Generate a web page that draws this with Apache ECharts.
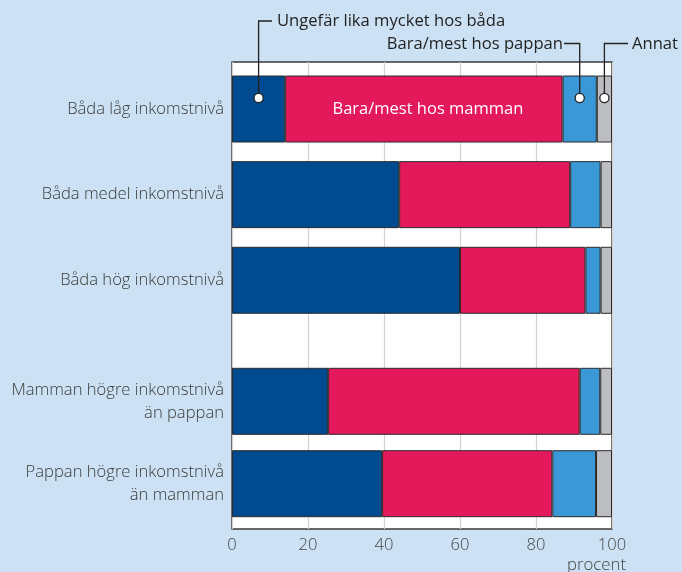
<!DOCTYPE html>
<html>
<head>
<meta charset="utf-8">
<script src="https://cdn.jsdelivr.net/npm/echarts@6/dist/echarts.min.js"></script>
<style>
html,body{margin:0;padding:0;background:#cce2f4;}
#c{width:682px;height:572px;}
</style>
</head>
<body>
<div id="c"></div>
<script>
// Data
var categoriesTop = ['Båda låg inkomstnivå', 'Båda medel inkomstnivå', 'Båda hög inkomstnivå'];
var categoriesBottom = ['Mamman högre inkomstnivå\nän pappan', 'Pappan högre inkomstnivå\nän mamman'];
var seriesNames = ['Ungefär lika mycket hos båda', 'Bara/mest hos mamman', 'Bara/mest hos pappan', 'Annat'];
var likaTop = [14, 44, 60];
var mammanTop = [73, 45, 33];
var pappanTop = [9, 8, 4];
var annatTop = [4, 3, 3];
var likaBottom = [25.3, 39.5];
var mammanBottom = [66.2, 44.8];
var pappanBottom = [5.4, 11.5];
var annatBottom = [3.1, 4.2];
var xTicks = [0, 20, 40, 60, 80, 100];
var xUnit = 'procent';

var colors = ['#004a8f', '#e3195b', '#3a98d6', '#bcbdc0'];
var FONT = 'Open Sans';

var chart = echarts.init(document.getElementById('c'), null, {renderer: 'canvas'});

function makeSeries(name, data, idx, gridIdx, withLabel) {
  var d = data.map(function (v, i) {
    if (withLabel && i === 0) {
      return {value: v, label: {show: true, position: 'inside', formatter: 'Bara/mest hos mamman',
        color: '#ffffff', fontFamily: FONT, fontSize: 16.5, offset: [4, 0]}};
    }
    return v;
  });
  return {
    type: 'bar', name: name, stack: 's' + gridIdx,
    xAxisIndex: gridIdx, yAxisIndex: gridIdx,
    data: d, barWidth: 67,
    itemStyle: {color: colors[idx], borderColor: '#2b2b2b', borderWidth: 1},
    emphasis: {disabled: true},
    silent: true, animation: false
  };
}

var hiddenX = function (gi) {
  return {type: 'value', gridIndex: gi, min: 0, max: 100, interval: 20, show: false};
};

var yLabel = {color: '#3a3a3a', fontFamily: FONT, fontSize: 16.6, fontWeight: 300, margin: 8, lineHeight: 23, align: 'right'};

var option = {
  backgroundColor: '#cce2f4',
  animation: false,
  grid: [
    {left: 232, width: 380, top: 62, height: 467, show: true, backgroundColor: '#ffffff',
      borderColor: '#3a3a3a', borderWidth: 1.5, z: 0},
    {left: 232, width: 380, top: 66.2, height: 256.9},
    {left: 232, width: 380, top: 360.1, height: 164.8}
  ],
  xAxis: [
    {type: 'value', gridIndex: 0, min: 0, max: 100, interval: 20,
      axisLine: {show: false}, axisTick: {show: false},
      splitLine: {show: true, lineStyle: {color: '#d2d2d2', width: 1.2}},
      axisLabel: {color: '#444', fontFamily: FONT, fontSize: 16.5, fontWeight: 300, margin: 8,
        formatter: function (v) { return xTicks.indexOf(v) >= 0 ? String(v) : ''; }}},
    hiddenX(1), hiddenX(2)
  ],
  yAxis: [
    {type: 'value', gridIndex: 0, show: false, min: 0, max: 1},
    {type: 'category', gridIndex: 1, inverse: true, data: categoriesTop,
      axisLine: {show: false}, axisTick: {show: false}, axisLabel: yLabel},
    {type: 'category', gridIndex: 2, inverse: true, data: categoriesBottom,
      axisLine: {show: false}, axisTick: {show: false}, axisLabel: yLabel}
  ],
  series: [
    makeSeries(seriesNames[0], likaTop, 0, 1),
    makeSeries(seriesNames[1], mammanTop, 1, 1, true),
    makeSeries(seriesNames[2], pappanTop, 2, 1),
    makeSeries(seriesNames[3], annatTop, 3, 1),
    makeSeries(seriesNames[0], likaBottom, 0, 2),
    makeSeries(seriesNames[1], mammanBottom, 1, 2),
    makeSeries(seriesNames[2], pappanBottom, 2, 2),
    makeSeries(seriesNames[3], annatBottom, 3, 2)
  ]
};
chart.setOption(option);

// Callouts on first bar, positioned from the data through the axes
function px(v, cat) {
  return chart.convertToPixel({xAxisIndex: 1, yAxisIndex: 1}, [v, cat]);
}
var c0 = categoriesTop[0];
var p1 = px(likaTop[0] / 2, c0);
var p2 = px(likaTop[0] + mammanTop[0] + pappanTop[0] / 2, c0);
var p3 = px(likaTop[0] + mammanTop[0] + pappanTop[0] + annatTop[0] / 2, c0);
var cy = p1[1] - 11;
var lineStyle = {stroke: '#222', lineWidth: 1.3, fill: null};
var textStyleBase = {fill: '#222', font: '16.6px "' + FONT + '"', textVerticalAlign: 'middle'};

var graphics = [
  {type: 'polyline', shape: {points: [[p1[0], cy], [p1[0], 21], [272, 21]]}, style: lineStyle, z: 10},
  {type: 'text', style: Object.assign({}, textStyleBase, {text: seriesNames[0], x: 277, y: 21, textAlign: 'left'}), z: 10},
  {type: 'polyline', shape: {points: [[p2[0], cy], [p2[0], 43.5], [564, 43.5]]}, style: lineStyle, z: 10},
  {type: 'text', style: Object.assign({}, textStyleBase, {text: seriesNames[2], x: 563, y: 44, textAlign: 'right'}), z: 10},
  {type: 'polyline', shape: {points: [[p3[0], cy], [p3[0], 43.5], [628, 43.5]]}, style: lineStyle, z: 10},
  {type: 'text', style: Object.assign({}, textStyleBase, {text: seriesNames[3], x: 632, y: 44, textAlign: 'left'}), z: 10},
  {type: 'circle', shape: {cx: p1[0], cy: cy, r: 4.6}, style: {fill: '#fff', stroke: '#222', lineWidth: 1.3}, z: 11},
  {type: 'circle', shape: {cx: p2[0], cy: cy, r: 4.6}, style: {fill: '#fff', stroke: '#222', lineWidth: 1.3}, z: 11},
  {type: 'circle', shape: {cx: p3[0], cy: cy, r: 4.6}, style: {fill: '#fff', stroke: '#222', lineWidth: 1.3}, z: 11},
  {type: 'text', style: {text: xUnit, x: 626, y: 565, textAlign: 'right', textVerticalAlign: 'middle',
    fill: '#444', font: '300 16.8px "' + FONT + '"'}, z: 10}
];
chart.setOption({graphic: graphics});
</script>
</body>
</html>
